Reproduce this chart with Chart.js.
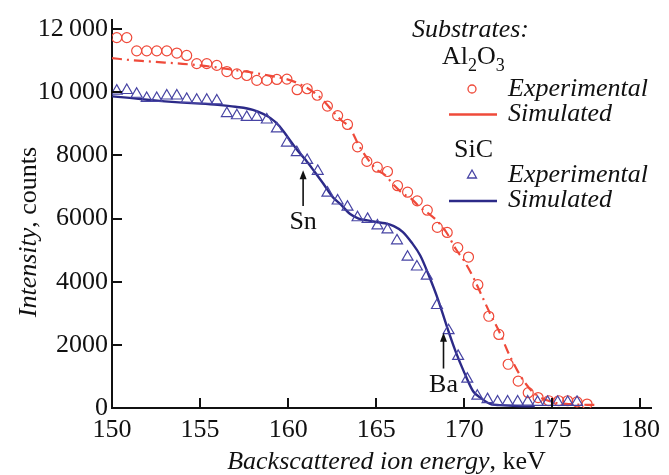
<!DOCTYPE html>
<html>
<head>
<title>RBS spectra</title>
<script src="https://cdn.jsdelivr.net/npm/chart.js@4"></script>
<style>
  body { margin: 0; background: #fff; }
  .probe { font-family: 'Liberation Serif'; position: absolute; left: -999px; }
</style>
</head>
<body>
<span class="probe">Aa <i>Aa</i></span>
<canvas id="rbs" width="669" height="475"></canvas>
<script>
// Al2O3 substrate, experimental (circles)
const alExpEnergy = [150.27, 150.84, 151.40, 151.97, 152.54, 153.11, 153.68, 154.24, 154.81, 155.38, 155.95, 156.52,
  157.09, 157.65, 158.22, 158.79, 159.36, 159.93, 160.51, 161.08, 161.65, 162.23, 162.81, 163.37, 163.94, 164.47,
  165.06, 165.64, 166.21, 166.78, 167.33, 167.90, 168.47, 169.03, 169.63, 170.24, 170.77, 171.39, 171.96, 172.49,
  173.06, 173.63, 174.19, 174.79, 175.36, 175.87, 176.40, 176.97];
const alExpCounts = [11730, 11730, 11310, 11310, 11310, 11310, 11240, 11165, 10905, 10905, 10850, 10655,
  10580, 10530, 10375, 10375, 10405, 10415, 10080, 10110, 9905, 9560, 9260, 8980, 8270, 7810,
  7625, 7490, 7040, 6835, 6560, 6265, 5720, 5560, 5080, 4780, 3905, 2905, 2330, 1385,
  850, 485, 330, 230, 230, 230, 195, 125];

// Al2O3 substrate, simulated (dash-dot line)
const alSimEnergy = [150, 151, 152, 153, 154, 155, 156, 157, 158, 159, 160, 160.5, 161, 161.5, 162, 162.5, 163, 163.5,
  164, 164.5, 165, 165.5, 166, 166.5, 167, 167.5, 168, 168.5, 169, 169.5, 170, 170.5, 171, 171.5, 172, 172.5,
  173, 173.5, 174, 175, 176, 177, 177.5];
const alSimCounts = [11080, 11020, 10980, 10940, 10900, 10850, 10780, 10700, 10620, 10520, 10400, 10300, 10160, 9980,
  9740, 9420, 9120, 8880, 8330, 7900, 7560, 7380, 7060, 6800, 6620, 6350, 6150, 5900, 5550, 5050, 4650, 4150,
  3550, 2950, 2400, 1750, 1200, 760, 450, 190, 120, 100, 95];

// SiC substrate, experimental (triangles)
const sicExpEnergy = [150.27, 150.84, 151.40, 151.97, 152.54, 153.11, 153.68, 154.24, 154.81, 155.38, 155.95, 156.52,
  157.09, 157.65, 158.22, 158.79, 159.36, 159.93, 160.49, 161.08, 161.68, 162.23, 162.81, 163.37, 163.94, 164.51,
  165.07, 165.64, 166.18, 166.78, 167.31, 167.87, 168.45, 169.11, 169.65, 170.17, 170.74, 171.32, 171.89, 172.46,
  173.03, 173.60, 174.16, 174.73, 175.30, 175.87, 176.40];
const sicExpCounts = [10040, 10060, 9940, 9810, 9810, 9885, 9885, 9780, 9750, 9750, 9730, 9330,
  9260, 9210, 9210, 9125, 8845, 8395, 8095, 7845, 7500, 6810, 6560, 6365, 6030, 5980,
  5770, 5645, 5300, 4780, 4470, 4180, 3250, 2455, 1640, 920, 380, 270, 195, 195,
  195, 195, 185, 185, 185, 185, 185];

// SiC substrate, simulated (solid line)
const sicSimEnergy = [150, 151, 152, 153, 154, 155, 156, 157, 158, 159, 159.5, 160, 160.5, 161, 161.5, 162, 162.5, 163,
  163.5, 164, 164.5, 165, 165.5, 166, 166.5, 167, 167.5, 168, 168.5, 169, 169.5, 170, 170.5, 171, 171.5, 172, 173, 174];
const sicSimCounts = [9870, 9820, 9760, 9710, 9670, 9640, 9600, 9540, 9440, 9180, 8930, 8560, 8180, 7850, 7480, 7100,
  6700, 6440, 6150, 6000, 5940, 5890, 5850, 5760, 5580, 5250, 4830, 4180, 3450, 2600, 1800, 1120, 530, 290, 120, 90, 60, 50];

const xTicks = [150, 155, 160, 165, 170, 175, 180];
const yTicks = [0, 2000, 4000, 6000, 8000, 10000, 12000];
const yTickLabels = ['0', '2000', '4000', '6000', '8000', '10\u2009000', '12\u2009000'];

// element markers: [label, energy, arrow tip, arrow foot, text position]
const markers = [
  ['Sn', 160.85, 7530, 6400, 5875],
  ['Ba', 168.82, 2385, 1250, 720]
];

const RED = '#ef4a3a';
const BLUE = '#2c2a88';
const BLUE_PT = '#4744a4';
const SERIF = "'Liberation Serif'";

Chart.defaults.font.family = SERIF;
Chart.defaults.color = '#111';

function pts(xs, ys) { return xs.map((x, i) => ({ x: x, y: ys[i] })); }

const extras = {
  id: 'extras',
  afterDraw(chart) {
    const c = chart.ctx, xs = chart.scales.x, ys = chart.scales.y, a = chart.chartArea;
    c.save();
    // inward tick marks
    c.strokeStyle = '#111';
    c.lineWidth = 2;
    xTicks.forEach(v => {
      const p = Math.round(xs.getPixelForValue(v));
      c.beginPath(); c.moveTo(p, a.bottom); c.lineTo(p, a.bottom - 10); c.stroke();
    });
    yTicks.forEach(v => {
      const p = Math.round(ys.getPixelForValue(v));
      c.beginPath(); c.moveTo(a.left, p); c.lineTo(a.left + 10, p); c.stroke();
    });

    // arrows with element names
    c.fillStyle = '#111';
    c.lineWidth = 1.6;
    markers.forEach(m => {
      const px = xs.getPixelForValue(m[1]);
      const tip = ys.getPixelForValue(m[2]);
      const foot = ys.getPixelForValue(m[3]);
      c.beginPath(); c.moveTo(px, foot); c.lineTo(px, tip + 6); c.stroke();
      c.beginPath(); c.moveTo(px, tip); c.lineTo(px - 3.5, tip + 9); c.lineTo(px + 3.5, tip + 9); c.closePath(); c.fill();
      c.font = '26px ' + SERIF;
      c.textAlign = 'center'; c.textBaseline = 'middle';
      c.fillText(m[0], px, ys.getPixelForValue(m[4]));
    });

    // axis titles (italic quantity, upright unit)
    c.textBaseline = 'alphabetic';
    c.textAlign = 'left';
    const drawMixed = (parts, cx, cy) => {
      let w = 0;
      parts.forEach(p => { c.font = p[1] + '26px ' + SERIF; w += c.measureText(p[0]).width; });
      let x = cx - w / 2;
      parts.forEach(p => { c.font = p[1] + '26px ' + SERIF; c.fillText(p[0], x, cy); x += c.measureText(p[0]).width; });
    };
    drawMixed([['Backscattered ion energy', 'italic '], [', keV', '']], (a.left + a.right) / 2 + 5, 469);
    c.save();
    c.translate(36, 232); c.rotate(-Math.PI / 2);
    drawMixed([['Intensity', 'italic '], [', counts', '']], 0, 0);
    c.restore();

    // legend
    c.font = 'italic 26px ' + SERIF;
    c.fillText('Substrates:', 412, 37);
    let lx = 442;
    [['Al', 0], ['2', 1], ['O', 0], ['3', 1]].forEach(p => {
      c.font = (p[1] ? '18px ' : '26px ') + SERIF;
      c.fillText(p[0], lx, 64 + (p[1] ? 7 : 0));
      lx += c.measureText(p[0]).width;
    });
    c.font = '26px ' + SERIF;
    c.fillText('SiC', 454, 157);
    c.font = 'italic 26px ' + SERIF;
    c.fillText('Experimental', 508, 96);
    c.fillText('Simulated', 508, 121);
    c.fillText('Experimental', 508, 182);
    c.fillText('Simulated', 508, 207);

    c.lineWidth = 1.3;
    c.strokeStyle = RED;
    c.beginPath(); c.arc(472, 89, 4, 0, Math.PI * 2); c.stroke();
    c.strokeStyle = BLUE_PT;
    c.beginPath(); c.moveTo(472, 170); c.lineTo(476.5, 178); c.lineTo(467.5, 178); c.closePath(); c.stroke();
    c.lineWidth = 2.5;
    c.strokeStyle = RED;
    c.beginPath(); c.moveTo(449, 114.5); c.lineTo(497, 114.5); c.stroke();
    c.strokeStyle = BLUE;
    c.beginPath(); c.moveTo(449, 201); c.lineTo(497, 201); c.stroke();
    c.restore();
  }
};

function build() {
  new Chart(document.getElementById('rbs'), {
    type: 'scatter',
    data: {
      datasets: [
        {
          label: 'Al2O3 Simulated', data: pts(alSimEnergy, alSimCounts), showLine: true,
          borderColor: RED, borderWidth: 2.2, borderDash: [10, 5, 2, 5], pointRadius: 0,
          cubicInterpolationMode: 'monotone', order: 3
        },
        {
          label: 'Al2O3 Experimental', data: pts(alExpEnergy, alExpCounts), showLine: false,
          pointStyle: 'circle', pointRadius: 5, borderColor: RED, borderWidth: 1.2,
          backgroundColor: 'rgba(0,0,0,0)', order: 2
        },
        {
          label: 'SiC Simulated', data: pts(sicSimEnergy, sicSimCounts), showLine: true,
          borderColor: BLUE, borderWidth: 2.4, pointRadius: 0,
          cubicInterpolationMode: 'monotone', order: 1
        },
        {
          label: 'SiC Experimental', data: pts(sicExpEnergy, sicExpCounts), showLine: false,
          pointStyle: 'triangle', pointRadius: 6.3, borderColor: BLUE_PT, borderWidth: 1.2,
          backgroundColor: 'rgba(0,0,0,0)', order: 0
        }
      ]
    },
    options: {
      responsive: false,
      animation: false,
      layout: { padding: { top: 14, right: 18, left: 0, bottom: 0 } },
      plugins: { legend: { display: false }, tooltip: { enabled: false } },
      scales: {
        x: {
          type: 'linear', min: 150, max: 180.6,
          afterBuildTicks: s => { s.ticks = xTicks.map(v => ({ value: v })); },
          afterFit: s => { s.height = 67; },
          grid: { display: false, drawTicks: false },
          border: { display: true, color: '#111', width: 2 },
          ticks: { padding: 7, font: { size: 26 }, color: '#111', maxRotation: 0 }
        },
        y: {
          type: 'linear', min: 0, max: 12300,
          afterBuildTicks: s => { s.ticks = yTicks.map(v => ({ value: v })); },
          afterFit: s => { s.width = 112; },
          grid: { display: false, drawTicks: false },
          border: { display: true, color: '#111', width: 2 },
          ticks: { padding: 4, font: { size: 26 }, color: '#111', callback: (v) => yTickLabels[yTicks.indexOf(v)] }
        }
      }
    },
    plugins: [extras]
  });
}

Promise.all([
  document.fonts.load("26px 'Liberation Serif'"),
  document.fonts.load("italic 26px 'Liberation Serif'")
]).then(build, build);
</script>
</body>
</html>
